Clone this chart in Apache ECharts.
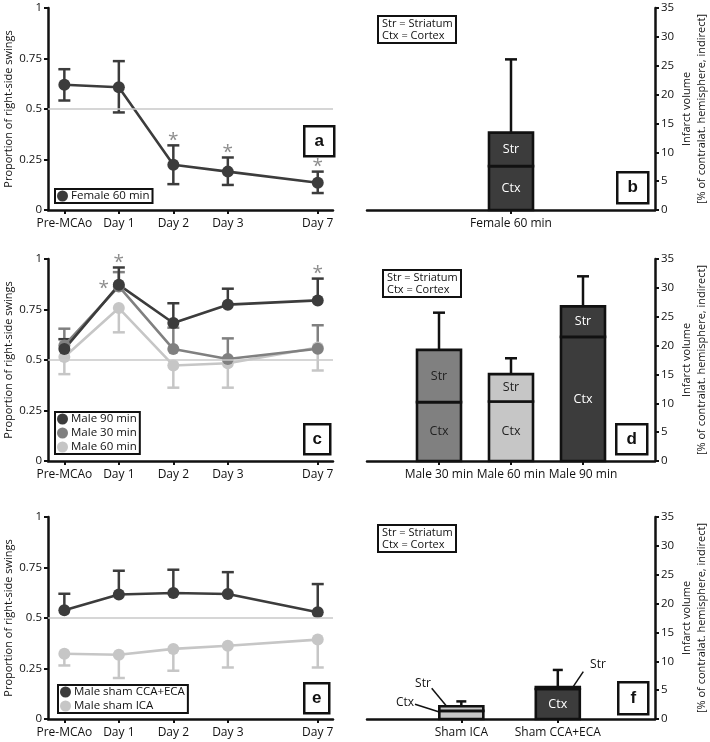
<!DOCTYPE html>
<html>
<head>
<meta charset="utf-8">
<script src="https://cdn.jsdelivr.net/npm/echarts@6/dist/echarts.min.js"></script>
<style>
  html, body { margin: 0; padding: 0; background: #fff; }
  #chart { width: 710px; height: 742px; }
</style>
</head>
<body>
<div id="chart"></div>
<script>
const FONT = 'Open Sans';
const INK = '#111';
const DARK = '#3c3c3c', MID = '#808080', LIGHT = '#c6c6c6', REF = '#c8c8c8', STAR = '#707070';

// swing test: time points (Day 7 sits further out on the axis)
const days = ['Pre-MCAo', 'Day 1', 'Day 2', 'Day 3', 'Day 7'];
const dayPos = [0, 1, 2, 3, 4.65];

// panel a
const female60 = [0.62, 0.608, 0.224, 0.19, 0.135];
const female60Hi = [0.697, 0.737, 0.32, 0.26, 0.19];
const female60Lo = [0.542, 0.483, 0.128, 0.124, 0.084];

// panel c
const male90 = [0.554, 0.872, 0.683, 0.774, 0.795];
const male90Hi = [0.603, 0.958, 0.781, 0.853, 0.903];
const male30 = [0.572, 0.864, 0.554, 0.505, 0.556];
const male30Hi = [0.655, 0.935, 0.66, 0.607, 0.672];
const male60 = [0.515, 0.757, 0.473, 0.484, 0.562];
const male60Lo = [0.43, 0.637, 0.363, 0.363, 0.448];

// panel e
const shamCcaEca = [0.538, 0.616, 0.624, 0.619, 0.528];
const shamCcaEcaHi = [0.62, 0.734, 0.739, 0.727, 0.668];
const shamIca = [0.323, 0.318, 0.347, 0.363, 0.393];
const shamIcaLo = [0.265, 0.203, 0.239, 0.255, 0.255];

// significance marks: [day index, y]
const starsA = [[2, female60Hi[2]], [3, female60Hi[3]], [4, female60Hi[4]]];
const starsC = [[1, male90Hi[1]], [4, male90Hi[4]]];
const starsCLeft = [[1, male90[1]]];

// infarct volume panels (Ctx at the bottom, Str stacked on top)
const bCats = ['Female 60 min'];
const bPos = [2];
const bCtx = [7.6];
const bStr = [5.8];
const bErr = [26.1];

const dCats = ['Male 30 min', 'Male 60 min', 'Male 90 min'];
const dPos = [1, 2, 3];
const dCtx = [10.2, 10.3, 21.5];
const dStr = [9.05, 4.75, 5.3];
const dErr = [25.7, 17.8, 32.0];

const fCats = ['Sham ICA', 'Sham CCA+ECA'];
const fPos = [1.31, 2.65];
const fCtx = [1.4, 5.2];
const fStr = [0.8, 0.35];
const fErr = [3.05, 8.5];

const bColors = [DARK];
const dColors = [MID, LIGHT, DARK];
const fColors = [LIGHT, DARK];

const chart = echarts.init(document.getElementById('chart'));

function errorItem(capW) {
  return function (params, api) {
    const x = api.value(0);
    const a = api.coord([x, api.value(1)]);
    const b = api.coord([x, api.value(2)]);
    const style = { stroke: api.visual('color'), lineWidth: 2.5 };
    return {
      type: 'group',
      children: [
        { type: 'line', shape: { x1: a[0], y1: a[1], x2: b[0], y2: b[1] }, style },
        { type: 'line', shape: { x1: b[0] - capW / 2, y1: b[1], x2: b[0] + capW / 2, y2: b[1] }, style }
      ]
    };
  };
}

function errSeries(g, pos, from, to, color, capW) {
  return {
    type: 'custom', name: 'err' + g, xAxisIndex: g, yAxisIndex: g, silent: true,
    itemStyle: { color },
    encode: { x: 0, y: [1, 2] },
    data: from.map((m, i) => [pos[i], m, to[i]]),
    renderItem: errorItem(capW)
  };
}

function lineSeries(name, g, values, color, withRef) {
  const s = {
    type: 'line', name, xAxisIndex: g, yAxisIndex: g,
    data: values.map((v, i) => [dayPos[i], v]),
    symbol: 'circle', symbolSize: 12, showSymbol: true,
    lineStyle: { color, width: 2.6 }, itemStyle: { color },
    emphasis: { disabled: true }
  };
  if (withRef) {
    s.markLine = {
      silent: true, symbol: 'none', label: { show: false },
      lineStyle: { color: REF, width: 1.5, type: 'solid' },
      data: [{ yAxis: 0.5 }]
    };
  }
  return s;
}

function starSeries(g, stars, offset) {
  return {
    type: 'scatter', name: 'stars' + g, xAxisIndex: g, yAxisIndex: g, silent: true,
    symbolSize: 1, itemStyle: { color: 'rgba(0,0,0,0)' },
    data: stars.map(s => [dayPos[s[0]], s[1]]),
    label: {
      show: true, formatter: '*', position: 'inside', offset,
      color: STAR, fontFamily: FONT, fontSize: 19
    }
  };
}

// stacked Ctx/Str columns drawn through the axis coordinates
function stackSeries(g, pos, ctx, str, colors, showCtx, showStr) {
  return {
    type: 'custom', name: 'vol' + g, xAxisIndex: g, yAxisIndex: g, silent: true,
    encode: { x: 0, y: [1, 2] },
    data: pos.map((x, i) => [x, ctx[i], ctx[i] + str[i]]),
    renderItem(params, api) {
      const i = params.dataIndex;
      const x = api.value(0);
      const p0 = api.coord([x, 0]);
      const p1 = api.coord([x, api.value(1)]);
      const p2 = api.coord([x, api.value(2)]);
      const w = 44;
      const fill = colors[i];
      const txt = fill === DARK ? '#fff' : '#222';
      const style = { fill, stroke: INK, lineWidth: 2.6 };
      const kids = [
        { type: 'rect', shape: { x: p0[0] - w / 2, y: p1[1], width: w, height: p0[1] - p1[1] }, style },
        { type: 'rect', shape: { x: p0[0] - w / 2, y: p2[1], width: w, height: p1[1] - p2[1] }, style }
      ];
      if (showCtx[i]) {
        kids.push({ type: 'text', x: p0[0], y: (p0[1] + p1[1]) / 2,
          style: { text: 'Ctx', fill: txt, font: '12.5px "Open Sans"', align: 'center', verticalAlign: 'middle' } });
      }
      if (showStr[i]) {
        kids.push({ type: 'text', x: p0[0], y: (p1[1] + p2[1]) / 2,
          style: { text: 'Str', fill: txt, font: '12.5px "Open Sans"', align: 'center', verticalAlign: 'middle' } });
      }
      return { type: 'group', children: kids };
    }
  };
}

function xDayAxis(g) {
  return {
    type: 'value', gridIndex: g, min: -0.3, max: 4.93,
    axisLine: { show: true, onZero: false, lineStyle: { color: INK, width: 2.5 } },
    axisTick: { show: true, customValues: dayPos, length: 4, lineStyle: { color: INK, width: 2 } },
    axisLabel: {
      customValues: dayPos, formatter: v => days[dayPos.indexOf(v)] || '',
      color: INK, fontFamily: FONT, fontSize: 12, margin: 8
    },
    splitLine: { show: false }
  };
}

function ySwingAxis(g) {
  return {
    type: 'value', gridIndex: g, min: 0, max: 1, interval: 0.25,
    name: 'Proportion of right-side swings', nameLocation: 'middle', nameGap: 34,
    nameTextStyle: { fontFamily: FONT, fontSize: 11, color: INK },
    axisLine: { show: true, onZero: false, lineStyle: { color: INK, width: 2.5 } },
    axisTick: { show: true, length: 4, lineStyle: { color: INK, width: 2 } },
    axisLabel: { fontFamily: FONT, fontSize: 11.5, color: INK, margin: 6 },
    splitLine: { show: false }
  };
}

function xBarAxis(g, pos, cats) {
  return {
    type: 'value', gridIndex: g, min: 0, max: 4,
    axisLine: { show: true, onZero: false, lineStyle: { color: INK, width: 2.5 } },
    axisTick: { show: true, customValues: pos, length: 4, lineStyle: { color: INK, width: 2 } },
    axisLabel: {
      customValues: pos, formatter: v => cats[pos.indexOf(v)] || '',
      color: INK, fontFamily: FONT, fontSize: 12, margin: 8
    },
    splitLine: { show: false }
  };
}

function yInfarctAxis(g) {
  return {
    type: 'value', gridIndex: g, position: 'right', min: 0, max: 35, interval: 5,
    name: 'Infarct volume\n[% of contralat. hemisphere, indirect]',
    nameLocation: 'middle', nameGap: 24, nameRotate: 90,
    nameTextStyle: { fontFamily: FONT, fontSize: 11, color: INK, lineHeight: 15 },
    axisLine: { show: true, onZero: false, lineStyle: { color: INK, width: 2.5 } },
    axisTick: { show: true, length: 4, lineStyle: { color: INK, width: 2 } },
    axisLabel: { fontFamily: FONT, fontSize: 11.5, color: INK, margin: 6 },
    splitLine: { show: false }
  };
}

const legendBase = {
  orient: 'vertical', icon: 'circle', itemWidth: 11, itemHeight: 11, itemGap: 2,
  padding: [1, 3, 1, 2], borderColor: INK, borderWidth: 2, borderRadius: 0,
  selectedMode: false,
  textStyle: { fontFamily: FONT, fontSize: 11.5, color: INK, padding: [0, 0, 0, -2] }
};

function letterBox(x, y, w, h, ch) {
  return {
    type: 'group', left: x, top: y,
    children: [
      { type: 'rect', shape: { x: 0, y: 0, width: w, height: h }, style: { fill: '#fff', stroke: INK, lineWidth: 2.5 } },
      { type: 'text', x: w / 2, y: h / 2, style: { text: ch, fill: INK, font: 'bold 17px Arial', align: 'center', verticalAlign: 'middle' } }
    ]
  };
}

function keyBox(x, y) {
  return {
    type: 'group', left: x, top: y,
    children: [
      { type: 'rect', shape: { x: 0, y: 0, width: 78, height: 27 }, style: { fill: '#fff', stroke: INK, lineWidth: 2 } },
      { type: 'text', x: 4, y: 8, style: { text: 'Str = Striatum', fill: INK, font: '11px "Open Sans"', verticalAlign: 'middle' } },
      { type: 'text', x: 4, y: 19.5, style: { text: 'Ctx = Cortex', fill: INK, font: '11px "Open Sans"', verticalAlign: 'middle' } }
    ]
  };
}

function callout(tx, ty, text, x1, y1, x2, y2) {
  return [
    { type: 'text', x: tx, y: ty, style: { text, fill: INK, font: '12px "Open Sans"', align: 'center', verticalAlign: 'middle' } },
    { type: 'line', shape: { x1, y1, x2, y2 }, style: { stroke: INK, lineWidth: 1.5 } }
  ];
}

const sum = (a, b) => a.map((v, i) => v + b[i]);

chart.setOption({
  animation: false,
  textStyle: { fontFamily: FONT },
  grid: [
    { left: 48, top: 8, width: 285, height: 202 },
    { left: 367, top: 8, width: 290, height: 202 },
    { left: 48, top: 259, width: 285, height: 202 },
    { left: 367, top: 259, width: 290, height: 202 },
    { left: 48, top: 517, width: 285, height: 202 },
    { left: 367, top: 517, width: 290, height: 202 }
  ],
  xAxis: [
    xDayAxis(0), xBarAxis(1, bPos, bCats),
    xDayAxis(2), xBarAxis(3, dPos, dCats),
    xDayAxis(4), xBarAxis(5, fPos, fCats)
  ],
  yAxis: [
    ySwingAxis(0), yInfarctAxis(1),
    ySwingAxis(2), yInfarctAxis(3),
    ySwingAxis(4), yInfarctAxis(5)
  ],
  legend: [
    Object.assign({}, legendBase, { data: ['Female 60 min'], left: 55, top: 189 }),
    Object.assign({}, legendBase, { data: ['Male 90 min', 'Male 30 min', 'Male 60 min'], left: 55, top: 412 }),
    Object.assign({}, legendBase, { data: ['Male sham CCA+ECA', 'Male sham ICA'], left: 58, top: 685 })
  ],
  series: [
    // a
    errSeries(0, dayPos, female60, female60Hi, DARK, 12),
    errSeries(0, dayPos, female60, female60Lo, DARK, 12),
    lineSeries('Female 60 min', 0, female60, DARK, true),
    starSeries(0, starsA, [0, -5]),
    // b
    errSeries(1, bPos, sum(bCtx, bStr), bErr, INK, 12),
    stackSeries(1, bPos, bCtx, bStr, bColors, [true], [true]),
    // c
    errSeries(2, dayPos, male60, male60Lo, LIGHT, 12),
    lineSeries('Male 60 min', 2, male60, LIGHT, true),
    errSeries(2, dayPos, male30, male30Hi, MID, 12),
    lineSeries('Male 30 min', 2, male30, MID, false),
    errSeries(2, dayPos, male90, male90Hi, DARK, 12),
    lineSeries('Male 90 min', 2, male90, DARK, false),
    starSeries(2, starsC, [0, -5]),
    starSeries(2, starsCLeft, [-15, 4]),
    // d
    errSeries(3, dPos, sum(dCtx, dStr), dErr, INK, 12),
    stackSeries(3, dPos, dCtx, dStr, dColors, [true, true, true], [true, true, true]),
    // e
    errSeries(4, dayPos, shamIca, shamIcaLo, LIGHT, 12),
    lineSeries('Male sham ICA', 4, shamIca, LIGHT, true),
    errSeries(4, dayPos, shamCcaEca, shamCcaEcaHi, DARK, 12),
    lineSeries('Male sham CCA+ECA', 4, shamCcaEca, DARK, false),
    // f
    errSeries(5, fPos, sum(fCtx, fStr), fErr, INK, 10),
    stackSeries(5, fPos, fCtx, fStr, fColors, [false, true], [false, false])
  ],
  graphic: [
    letterBox(303, 125, 30, 30, 'a'),
    letterBox(616, 171, 31, 31, 'b'),
    letterBox(303, 423, 26, 30, 'c'),
    letterBox(615, 423, 31, 30, 'd'),
    letterBox(303, 682, 25, 30, 'e'),
    letterBox(617, 681, 30, 32, 'f'),
    keyBox(377, 15),
    keyBox(382, 269),
    keyBox(377, 524),
    ...callout(423, 684, 'Str', 431.7, 688.3, 448.3, 708.3),
    ...callout(405, 703, 'Ctx', 415, 704.3, 441.7, 712.7),
    ...callout(598, 665, 'Str', 583.3, 671.7, 572.7, 687.3)
  ]
});
</script>
</body>
</html>
